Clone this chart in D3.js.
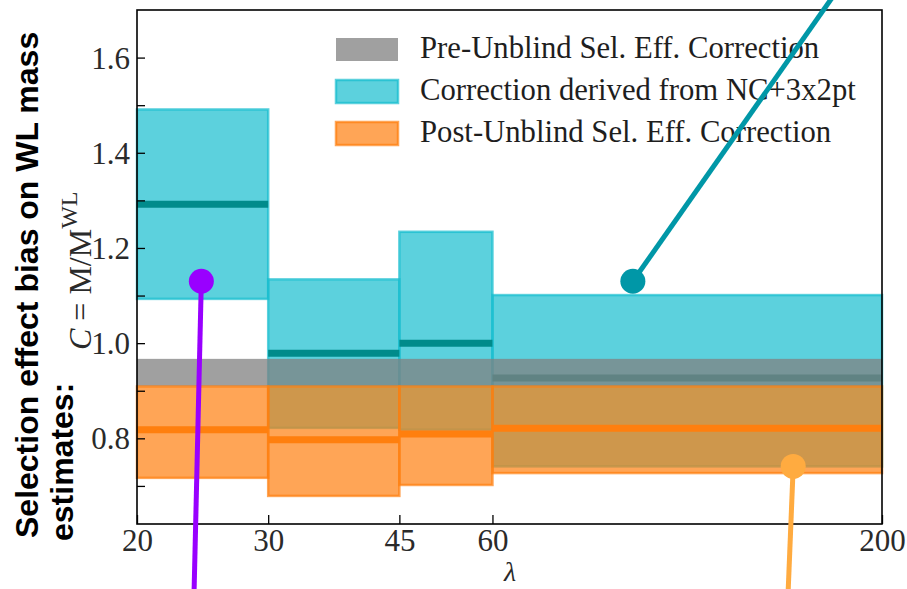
<!DOCTYPE html>
<html>
<head>
<meta charset="utf-8">
<script src="https://cdn.jsdelivr.net/npm/d3@7/dist/d3.min.js"></script>
<style>
  html, body { margin: 0; padding: 0; background: #fff; }
  svg { display: block; }
</style>
</head>
<body>
<svg id="chart" width="907" height="589"></svg>
<script>
// ---------------- data ----------------
const binEdges = [20, 30, 45, 60, 200];
const xTickValues = [20, 30, 45, 60, 200];
const xTickLabels = ["20", "30", "45", "60", "200"];
const yTickValues = [0.7, 0.8, 0.9, 1.0, 1.1, 1.2, 1.3, 1.4, 1.5, 1.6];
const yTickLabels = ["", "0.8", "", "1.0", "", "1.2", "", "1.4", "", "1.6"];

// Correction derived from NC+3x2pt (per bin)
const ncLow  = [1.093, 0.822, 0.818, 0.741];
const ncMed  = [1.292, 0.979, 1.000, 0.927];
const ncHigh = [1.491, 1.134, 1.234, 1.101];

// Pre-Unblind Sel. Eff. Correction (single band over all lambda)
const preBand = [0.909, 0.967];

// Post-Unblind Sel. Eff. Correction (per bin)
const postLow  = [0.717, 0.679, 0.702, 0.727];
const postMed  = [0.818, 0.797, 0.809, 0.821];
const postHigh = [0.909, 0.909, 0.909, 0.909];

const legendLabels = [
  "Pre-Unblind Sel. Eff. Correction",
  "Correction derived from NC+3x2pt",
  "Post-Unblind Sel. Eff. Correction"
];

// callout dots (data coordinates) and tails (page coordinates)
const calloutAnchors = [[24.4, 1.130], [92.6, 1.130], [152, 0.741]];
const calloutTails = [[194, 595], [834, -5], [788, 595]];
const calloutColors = ["#9900ff", "#0097a7", "#ffab40"];

// ---------------- chart ----------------
const svg = d3.select("#chart");
const m = { left: 137, right: 882, top: 10, bottom: 524 };

const x = d3.scaleLog().domain([20, 200]).range([m.left, m.right]);
const y = d3.scaleLinear().domain([0.62, 1.70]).range([m.bottom, m.top]);

const CYAN = "#17becf", TEAL = "#008b8b", ORANGE = "#ff7f0e", GRAY = "#808080";
const serif = "'Liberation Serif', 'DejaVu Serif', serif";

const bins = d3.range(binEdges.length - 1).map(i => ({
  x0: binEdges[i], x1: binEdges[i + 1],
  ncLow: ncLow[i], ncMed: ncMed[i], ncHigh: ncHigh[i],
  postLow: postLow[i], postMed: postMed[i], postHigh: postHigh[i]
}));

const plot = svg.append("g");

// cyan boxes
plot.selectAll("rect.nc").data(bins).join("rect").attr("class", "nc")
  .attr("x", d => x(d.x0)).attr("width", d => x(d.x1) - x(d.x0))
  .attr("y", d => y(d.ncHigh)).attr("height", d => y(d.ncLow) - y(d.ncHigh))
  .attr("fill", CYAN).attr("fill-opacity", 0.7)
  .attr("stroke", CYAN).attr("stroke-opacity", 0.7).attr("stroke-width", 2.5);

// cyan medians
plot.selectAll("line.ncmed").data(bins).join("line").attr("class", "ncmed")
  .attr("x1", d => x(d.x0)).attr("x2", d => x(d.x1))
  .attr("y1", d => y(d.ncMed)).attr("y2", d => y(d.ncMed))
  .attr("stroke", TEAL).attr("stroke-width", 7);

// gray pre-unblind band
plot.append("rect")
  .attr("x", x(binEdges[0])).attr("width", x(binEdges[binEdges.length - 1]) - x(binEdges[0]))
  .attr("y", y(preBand[1])).attr("height", y(preBand[0]) - y(preBand[1]))
  .attr("fill", GRAY).attr("fill-opacity", 0.75);

// orange boxes
plot.selectAll("rect.post").data(bins).join("rect").attr("class", "post")
  .attr("x", d => x(d.x0)).attr("width", d => x(d.x1) - x(d.x0))
  .attr("y", d => y(d.postHigh)).attr("height", d => y(d.postLow) - y(d.postHigh))
  .attr("fill", ORANGE).attr("fill-opacity", 0.7)
  .attr("stroke", ORANGE).attr("stroke-opacity", 0.7).attr("stroke-width", 2.5);

// orange medians
plot.selectAll("line.postmed").data(bins).join("line").attr("class", "postmed")
  .attr("x1", d => x(d.x0)).attr("x2", d => x(d.x1))
  .attr("y1", d => y(d.postMed)).attr("y2", d => y(d.postMed))
  .attr("stroke", ORANGE).attr("stroke-width", 7);

// axes (ticks inward)
const yAxis = d3.axisLeft(y).tickValues(yTickValues)
  .tickFormat((d, i) => yTickLabels[i]).tickSizeInner(-8).tickSizeOuter(0).tickPadding(7);
const gy = svg.append("g").attr("transform", `translate(${m.left},0)`).call(yAxis);
gy.select(".domain").remove();
gy.selectAll("line").attr("stroke", "#000").attr("stroke-width", 1.3);
gy.selectAll("text").attr("font-family", serif).attr("font-size", 31).attr("fill", "#2a2a2a")
  .attr("dy", "0.34em");

const xAxis = d3.axisBottom(x).tickValues(xTickValues)
  .tickFormat((d, i) => xTickLabels[i]).tickSizeInner(-9).tickSizeOuter(0).tickPadding(5);
const gx = svg.append("g").attr("transform", `translate(0,${m.bottom})`).call(xAxis);
gx.select(".domain").remove();
gx.selectAll("line").attr("stroke", "#000").attr("stroke-width", 1.3);
gx.selectAll("text").attr("font-family", serif).attr("font-size", 31).attr("fill", "#2a2a2a")
  .attr("dy", "0.71em");

// frame
svg.append("rect").attr("x", m.left).attr("y", m.top)
  .attr("width", m.right - m.left).attr("height", m.bottom - m.top)
  .attr("fill", "none").attr("stroke", "#000").attr("stroke-width", 1.6);

// x label
svg.append("text").attr("x", 510).attr("y", 581).attr("text-anchor", "middle")
  .attr("font-family", serif).attr("font-style", "italic").attr("font-size", 28)
  .attr("fill", "#2a2a2a").text("λ");

// y labels
const sans = "'Liberation Sans', Arial, sans-serif";
svg.append("text").attr("transform", "translate(38,538) rotate(-90)")
  .attr("font-family", sans).attr("font-weight", "bold").attr("font-size", 32)
  .attr("fill", "#000").text("Selection effect bias on WL mass");
svg.append("text").attr("transform", "translate(73,541) rotate(-90)")
  .attr("font-family", sans).attr("font-weight", "bold").attr("font-size", 32)
  .attr("fill", "#000").text("estimates:");
const mt = svg.append("text").attr("transform", "translate(91,350) rotate(-90)")
  .attr("font-family", serif).attr("font-size", 32).attr("fill", "#2a2a2a");
mt.append("tspan").attr("font-style", "italic").text("C");
mt.append("tspan").text(" = M/M");
mt.append("tspan").attr("font-size", 24).attr("dy", -14).text("WL");

// legend
const legColors = [
  { fill: GRAY, op: 0.75, stroke: "none" },
  { fill: CYAN, op: 0.7, stroke: CYAN },
  { fill: ORANGE, op: 0.7, stroke: ORANGE }
];
const legY = [38, 80, 122];
const leg = svg.append("g");
legendLabels.forEach((lab, i) => {
  leg.append("rect").attr("x", 336).attr("y", legY[i]).attr("width", 62).attr("height", 23)
    .attr("fill", legColors[i].fill).attr("fill-opacity", legColors[i].op)
    .attr("stroke", legColors[i].stroke).attr("stroke-opacity", 0.7).attr("stroke-width", 2.5);
  leg.append("text").attr("x", 420).attr("y", legY[i] + 20)
    .attr("font-family", serif).attr("font-size", 30.7).attr("fill", "#1e1e1e").text(lab);
});

// callouts
calloutAnchors.forEach((a, i) => {
  const cx = x(a[0]), cy = y(a[1]);
  svg.append("line").attr("x1", cx).attr("y1", cy)
    .attr("x2", calloutTails[i][0]).attr("y2", calloutTails[i][1])
    .attr("stroke", calloutColors[i]).attr("stroke-width", 5);
  svg.append("circle").attr("cx", cx).attr("cy", cy).attr("r", 12.5)
    .attr("fill", calloutColors[i]);
});
</script>
</body>
</html>
